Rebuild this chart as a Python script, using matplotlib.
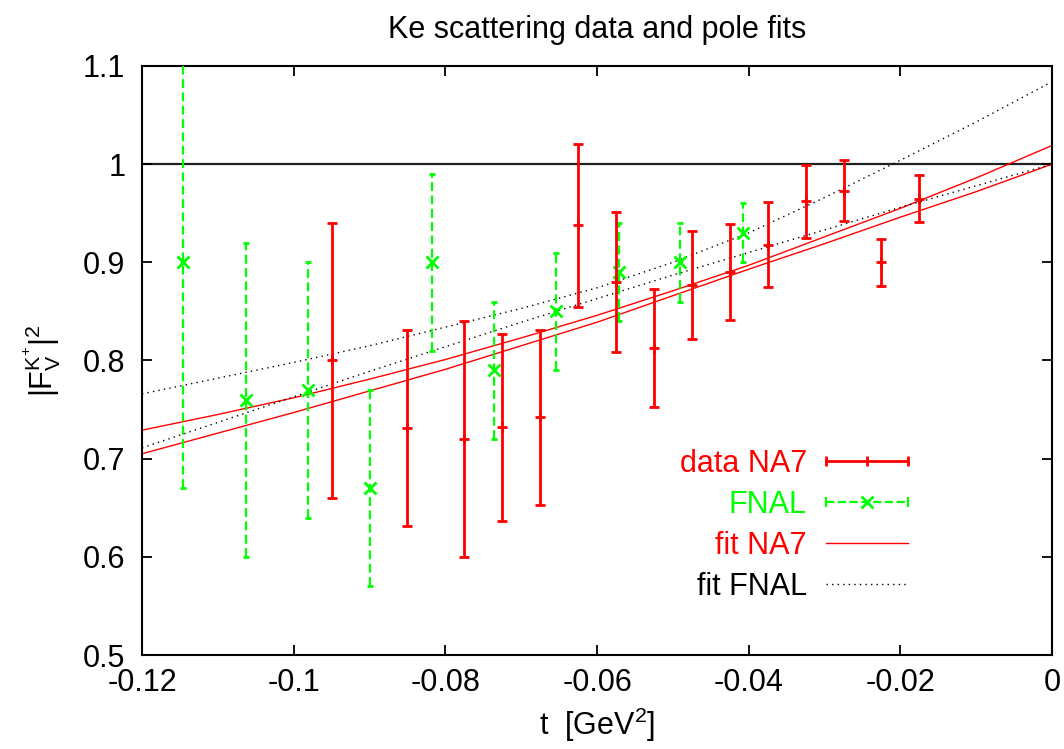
import matplotlib
matplotlib.use('Agg')
import matplotlib.pyplot as plt
from matplotlib.lines import Line2D
from matplotlib.legend_handler import HandlerBase

plt.rcParams['font.family'] = ['Liberation Sans', 'DejaVu Sans']
plt.rcParams['mathtext.fontset'] = 'custom'
plt.rcParams['mathtext.rm'] = 'Liberation Sans'
plt.rcParams['mathtext.it'] = 'Liberation Sans:italic'

# NA7 data points (t, |F|^2, symmetric error)
na7_t = [-0.095, -0.085, -0.0775, -0.0725, -0.0675, -0.0625, -0.0575, -0.0525,
         -0.0475, -0.0425, -0.0375, -0.0325, -0.0275, -0.0225, -0.0175]
na7_f = [0.800, 0.731, 0.720, 0.732, 0.742, 0.938, 0.880, 0.813,
         0.877, 0.890, 0.918, 0.962, 0.973, 0.900, 0.965]
na7_err = [0.140, 0.100, 0.120, 0.095, 0.089, 0.083, 0.071, 0.060,
           0.055, 0.049, 0.043, 0.037, 0.031, 0.024, 0.024]

# FNAL data points
fnal_t = [-0.1146, -0.1063, -0.0981, -0.0899, -0.0818, -0.0736, -0.0654,
          -0.0571, -0.0491, -0.0408]
fnal_f = [0.90, 0.76, 0.77, 0.67, 0.90, 0.79, 0.85, 0.89, 0.90, 0.93]
fnal_err = [0.23, 0.16, 0.13, 0.10, 0.09, 0.07, 0.06, 0.05, 0.04, 0.03]

# pole fit curves on a 0.01 grid in t
fit_t = [-0.12, -0.11, -0.10, -0.09, -0.08, -0.07, -0.06, -0.05, -0.04,
         -0.03, -0.02, -0.01, 0.0]
fitna7_a = [0.729, 0.745, 0.762, 0.781, 0.801, 0.823, 0.846, 0.871, 0.897,
            0.926, 0.955, 0.986, 1.019]
fitna7_b = [0.705, 0.726, 0.747, 0.769, 0.791, 0.815, 0.839, 0.866, 0.893,
            0.919, 0.946, 0.972, 1.000]
fitfnal_a = [0.711, 0.737, 0.763, 0.789, 0.814, 0.839, 0.863, 0.887, 0.910,
             0.933, 0.956, 0.978, 1.000]
fitfnal_b = [0.766, 0.782, 0.798, 0.815, 0.834, 0.853, 0.874, 0.900, 0.930,
             0.966, 1.004, 1.043, 1.084]

xticks = [-0.12, -0.1, -0.08, -0.06, -0.04, -0.02, 0]
xticklabels = ['-0.12', '-0.1', '-0.08', '-0.06', '-0.04', '-0.02', '0']
yticks = [0.5, 0.6, 0.7, 0.8, 0.9, 1.0, 1.1]
yticklabels = ['0.5', '0.6', '0.7', '0.8', '0.9', '1', '1.1']

RED = '#ff0000'
GREEN = '#00ff00'
FS = 22


class GnuplotErrorKey(HandlerBase):
    # horizontal key sample with end ticks and a centre mark, like gnuplot
    def create_artists(self, legend, orig_handle, xdescent, ydescent,
                       width, height, fontsize, trans):
        y = height / 2 - ydescent
        x0, x1 = -xdescent, width - xdescent
        c = orig_handle.get_color()
        lw = orig_handle.get_linewidth()
        bar = Line2D([x0, x1], [y, y], color=c, lw=lw,
                     ls=orig_handle.get_linestyle(), transform=trans)
        ends = Line2D([x0, x1], [y, y], ls='none', marker='|', ms=7,
                      mew=lw, color=c, transform=trans)
        mid = Line2D([(x0 + x1) / 2], [y], ls='none',
                     marker=orig_handle.get_marker(),
                     ms=orig_handle.get_markersize(),
                     mew=orig_handle.get_markeredgewidth(),
                     color=c, transform=trans)
        return [bar, ends, mid]


def main():
    fig = plt.figure(figsize=(10.64, 7.49), dpi=100)
    ax = fig.add_axes([0.1335, 0.1255, 0.8553, 0.7864])

    ax.axhline(1.0, color='#202020', lw=1.6, zorder=1)

    ax.plot(fit_t, fitna7_a, color=RED, lw=1.0, zorder=2)
    ax.plot(fit_t, fitna7_b, color=RED, lw=1.0, zorder=2)
    ax.plot(fit_t, fitfnal_a, color='black', lw=1.0, ls=(0, (1, 3)), zorder=2)
    ax.plot(fit_t, fitfnal_b, color='black', lw=1.0, ls=(0, (1, 3)), zorder=2)

    eb = ax.errorbar(fnal_t, fnal_f, yerr=fnal_err, fmt='x', color=GREEN,
                     ms=8, mew=2, elinewidth=1.6, capsize=2.5, capthick=1.6,
                     zorder=3)
    eb.lines[2][0].set_linestyle((0, (4, 2)))
    ax.errorbar(na7_t, na7_f, yerr=na7_err, fmt='+', color=RED, ms=7.5,
                mew=2, elinewidth=2, capsize=3.6, capthick=2, zorder=4)

    ax.set_xlim(-0.12, 0)
    ax.set_ylim(0.5, 1.1)
    ax.set_xticks(xticks)
    ax.set_xticklabels(xticklabels)
    ax.set_yticks(yticks)
    ax.set_yticklabels(yticklabels)
    ax.tick_params(direction='in', length=7.5, width=1.3, labelsize=FS,
                   top=True, right=True)
    ax.tick_params(axis='y', pad=12)
    ax.tick_params(axis='x', pad=9)
    for s in ax.spines.values():
        s.set_linewidth(1.5)

    ax.set_title('Ke scattering data and pole fits', fontsize=FS, pad=20)
    ax.set_xlabel(r't  [GeV$^{2}$]', fontsize=FS, labelpad=6)
    ax.set_ylabel(r'$|\mathrm{F}_{\mathrm{V}}^{\mathrm{K}^{+}}|^{2}$',
                  fontsize=FS, labelpad=14)

    h_na7 = Line2D([], [], color=RED, lw=2, marker='|', ms=7, mew=2)
    h_fnal = Line2D([], [], color=GREEN, lw=1.6, ls=(0, (4, 2)),
                    marker='x', ms=8, mew=2)
    h_fit_na7 = Line2D([], [], color=RED, lw=1.0)
    h_fit_fnal = Line2D([], [], color='black', lw=1.0, ls=(0, (1, 3)))
    # markerfirst=False right-aligns the rows, so the labels end together
    leg = ax.legend([h_na7, h_fnal, h_fit_na7, h_fit_fnal],
                    ['data NA7', 'FNAL', 'fit NA7', 'fit FNAL'],
                    handler_map={h_na7: GnuplotErrorKey(),
                                 h_fnal: GnuplotErrorKey()},
                    loc='lower right', bbox_to_anchor=(0.842, 0.09),
                    frameon=False, fontsize=FS, markerfirst=False,
                    handlelength=2.7, handletextpad=0.62, labelspacing=0.36,
                    borderpad=0, borderaxespad=0)
    for t, c in zip(leg.get_texts(), [RED, GREEN, RED, 'black']):
        t.set_color(c)

    fig.savefig('out.png', dpi=100)


if __name__ == '__main__':
    main()
